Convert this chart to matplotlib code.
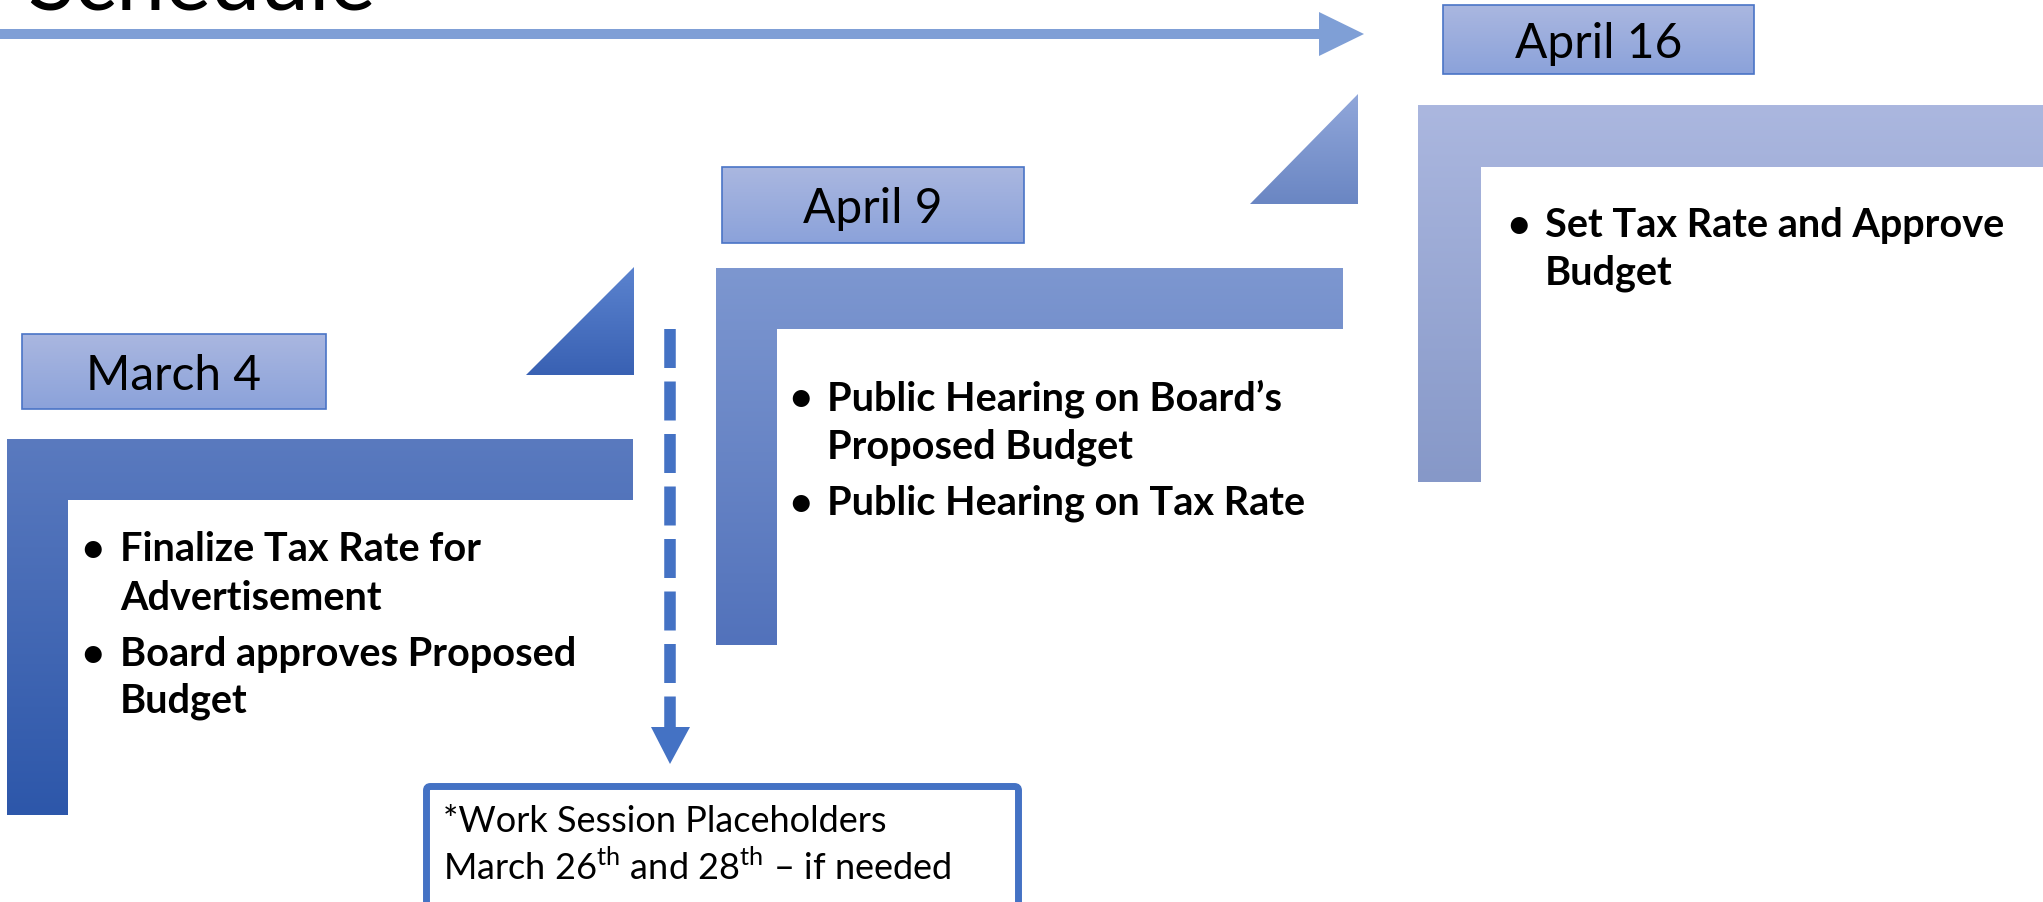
import numpy as np
import matplotlib
matplotlib.use("Agg")
import matplotlib.pyplot as plt
from matplotlib.patches import Polygon, FancyBboxPatch, Rectangle
from matplotlib.colors import LinearSegmentedColormap

plt.rcParams['font.family'] = ['Lato', 'DejaVu Sans']
plt.rcParams['mathtext.fontset'] = 'custom'
plt.rcParams['mathtext.rm'] = 'Lato'

# content
title = "Schedule"
dates = ["March 4", "April 9", "April 16"]
bullets = [
    [["Finalize Tax Rate for", "Advertisement"], ["Board approves Proposed", "Budget"]],
    [["Public Hearing on Board\u2019s", "Proposed Budget"], ["Public Hearing on Tax Rate"]],
    [["Set Tax Rate and Approve", "Budget"]],
]
note_lines = ["*Work Session Placeholders",
              "March 26$^{\\mathrm{th}}$ and 28$^{\\mathrm{th}}$ \u2013 if needed"]

# layout (pixel coords, origin top-left)
W, H = 2043, 902
date_boxes = [(22, 334, 304, 75), (722, 167, 302, 76), (1443, 5, 311, 69)]
# L-shape: x0, y0, x1 (right end), bar thickness, vertical width, y bottom
l_shapes = [(7, 439, 633, 61, 61, 815), (716, 268, 1343, 61, 61, 645), (1418, 105, 2043, 62, 63, 482)]
l_colors = [("#5a7abf", "#2d57aa"), ("#7d97d0", "#5272bb"), ("#abb7df", "#8698c8")]
triangles = [[(526, 375), (634, 375), (634, 267)], [(1250, 204), (1358, 204), (1358, 94)]]
tri_colors = [("#5b83cf", "#3961b3"), ("#91a7da", "#6a86c3")]
text_x = [(81, 120), (789, 827), (1507, 1545)]
text_y = [[[561, 610], [666, 713]], [[410, 458], [515]], [[237, 285]]]


def fill_gradient(ax, verts, top, bottom, z=2):
    poly = Polygon(verts, closed=True, facecolor='none', edgecolor='none', zorder=z)
    ax.add_patch(poly)
    xs = [v[0] for v in verts]
    ys = [v[1] for v in verts]
    cmap = LinearSegmentedColormap.from_list('g', [top, bottom])
    grad = np.linspace(0, 1, 256).reshape(-1, 1)
    im = ax.imshow(grad, cmap=cmap, aspect='auto', zorder=z,
                   extent=(min(xs), max(xs), max(ys), min(ys)))
    im.set_clip_path(poly)
    return poly


fig = plt.figure(figsize=(W / 100, H / 100), dpi=100)
ax = fig.add_axes([0, 0, 1, 1])

# L-shaped brackets
for (x0, y0, x1, t, w, yb), (c1, c2) in zip(l_shapes, l_colors):
    verts = [(x0, y0), (x1, y0), (x1, y0 + t), (x0 + w, y0 + t), (x0 + w, yb), (x0, yb)]
    fill_gradient(ax, verts, c1, c2)

# step triangles
for verts, (c1, c2) in zip(triangles, tri_colors):
    fill_gradient(ax, verts, c1, c2)

# date boxes
for (x, y, w, h), label in zip(date_boxes, dates):
    verts = [(x, y), (x + w, y), (x + w, y + h), (x, y + h)]
    fill_gradient(ax, verts, "#aab7e0", "#8ba2da", z=3)
    ax.add_patch(Rectangle((x, y), w, h, facecolor='none', edgecolor='#4a74c6', lw=1.2, zorder=4))
    ax.text(x + w / 2, y + h / 2 + 18, label, fontsize=34.5, ha='center', va='baseline', zorder=5)

# bullet text
for i, items in enumerate(bullets):
    bx, tx = text_x[i]
    for j, lines in enumerate(items):
        ys = text_y[i][j]
        ax.text(bx, ys[0], "\u2022", fontsize=28, fontweight='bold', ha='left', va='baseline')
        for line, y in zip(lines, ys):
            ax.text(tx, y, line, fontsize=28.5, fontweight='bold', ha='left', va='baseline')

# top timeline arrow
ax.plot([0, 1322], [34, 34], color="#7f9fd6", lw=7.2, solid_capstyle='butt')
ax.add_patch(Polygon([(1319, 12), (1364, 34), (1319, 56)], closed=True,
                     facecolor="#7f9fd6", edgecolor='none'))

# title (cut off at top)
ax.text(27, 10, title, fontsize=63, ha='left', va='baseline')

# dashed down arrow
ax.plot([670, 670], [329, 728], color="#4472c4", lw=8.3, solid_capstyle='butt',
        dash_capstyle='butt', dashes=(39 * 0.72 / 8.3, 13.5 * 0.72 / 8.3))
ax.add_patch(Polygon([(651, 727), (690, 727), (670, 764)], closed=True,
                     facecolor="#4472c4", edgecolor='none'))

# work-session note
ax.add_patch(FancyBboxPatch((426.5, 786.5), 592, 130, boxstyle="round,pad=0,rounding_size=4",
                            facecolor='white', edgecolor="#4472c4", lw=5))
ax.text(443, 832, note_lines[0], fontsize=26, ha='left', va='baseline')
ax.text(443, 880, note_lines[1], fontsize=26, ha='left', va='baseline')

ax.set_xlim(0, W)
ax.set_ylim(H, 0)
ax.axis('off')
fig.savefig("out.png", dpi=100)
